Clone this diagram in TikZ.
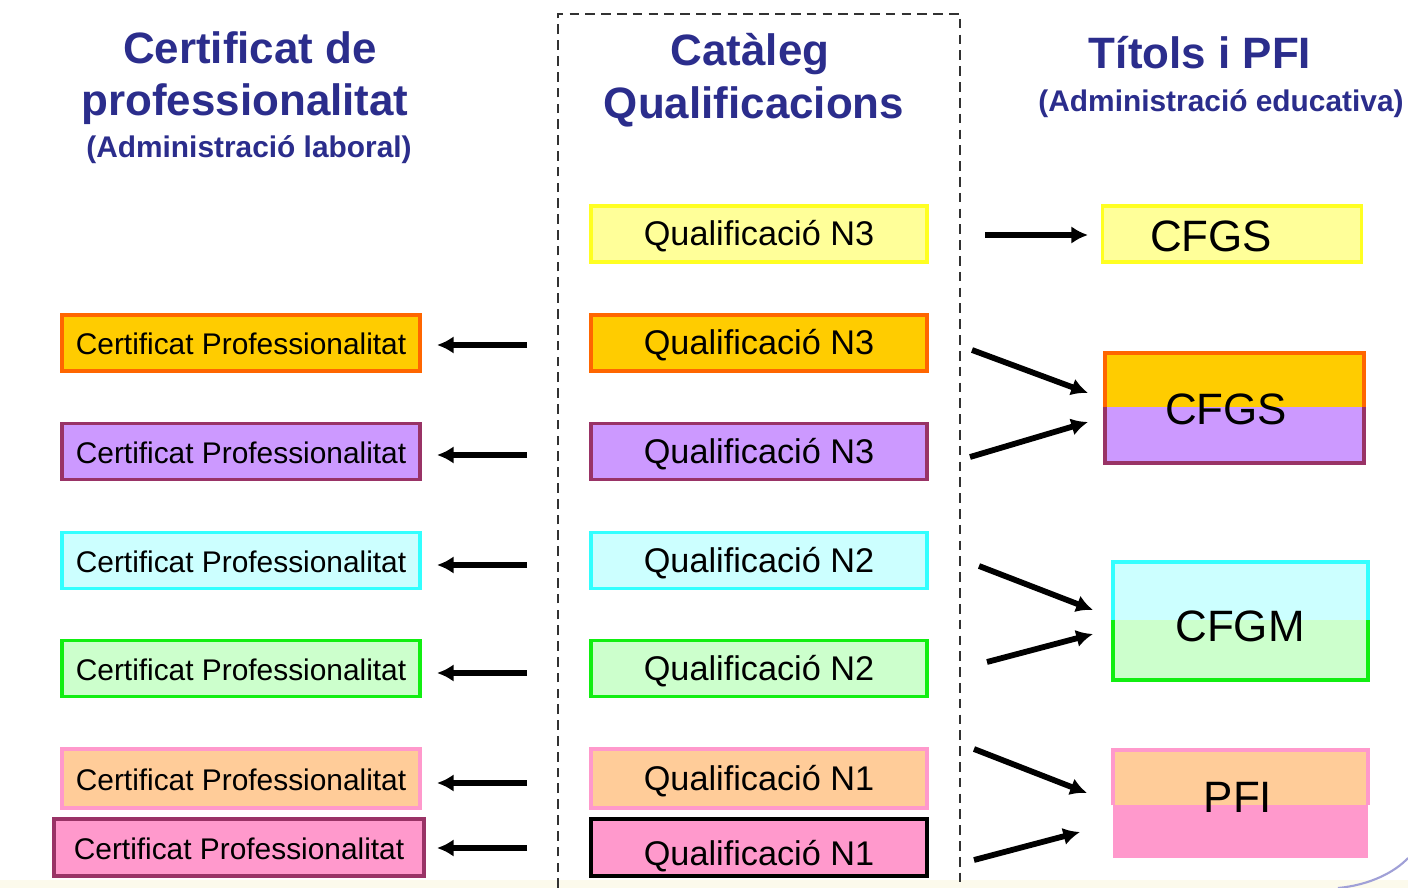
\documentclass[tikz,border=0pt]{standalone}
\usepackage{fontspec}
\setmainfont{Liberation Sans}
\usetikzlibrary{arrows.meta}
\definecolor{headblue}{RGB}{43,45,140}
\definecolor{yellowF}{HTML}{FFFF99}
\definecolor{yellowB}{HTML}{FFFF22}
\definecolor{orangeF}{HTML}{FFCC00}
\definecolor{orangeB}{HTML}{FF6600}
\definecolor{purpleF}{HTML}{CC99FF}
\definecolor{purpleB}{HTML}{993366}
\definecolor{cyanF}{HTML}{CCFFFF}
\definecolor{cyanB}{HTML}{33FFFF}
\definecolor{greenF}{HTML}{CCFFCC}
\definecolor{greenB}{HTML}{11EE11}
\definecolor{peachF}{HTML}{FFCC99}
\definecolor{peachB}{HTML}{FF99CC}
\definecolor{pinkF}{HTML}{FF99CC}
\definecolor{frameC}{RGB}{50,50,50}
\definecolor{bandC}{RGB}{252,250,236}
\definecolor{curveC}{RGB}{160,160,215}
\tikzset{
  head/.style={text=headblue, font=\bfseries\fontsize{25}{30}\selectfont, anchor=base, inner sep=0pt},
  subhead/.style={text=headblue, font=\bfseries\fontsize{17}{20}\selectfont, anchor=base, inner sep=0pt},
  box/.style={rectangle, inner sep=0pt, line width=2.2pt, text=black, text height=13.5pt, text depth=0pt},
  qbox/.style={box, minimum width=6.72cm, minimum height=1.12cm, font=\fontsize{19.5}{22}\selectfont},
  cbox/.style={box, minimum width=7.16cm, minimum height=1.12cm, font=\fontsize{17}{20}\selectfont},
  half/.style={rectangle, inner sep=0pt, draw=none},
  bigtext/.style={inner sep=0pt, font=\fontsize{25}{30}\selectfont, text height=18pt, text depth=0pt},
  arr/.style={line width=3.3pt, -{Latex[length=9.5pt,width=10pt]}},
  edge/.style={line width=2.2pt}
}
\begin{document}
\begin{tikzpicture}[x=0.02cm,y=-0.02cm]
\useasboundingbox (0,0) rectangle (1408,888);
\fill[white] (0,0) rectangle (1408,888);
\fill[bandC] (0,880) rectangle (1408,888);
\draw[curveC, line width=1.2pt] (1338,888) .. controls (1370,885) and (1395,872) .. (1408,858);

% dashed frame of the catalogue
\draw[frameC, line width=1.2pt, dash pattern=on 5.5pt off 3.5pt] (558,888) -- (558,14) -- (960,14) -- (960,888);

% headings
\node[head] (h1a) at (250,64) {Certificat de};
\node[head] (h1b) at (245,116) {professionalitat};
\node[subhead] (h1c) at (249,158) {(Administració laboral)};
\node[head] (h2a) at (750,66) {Catàleg};
\node[head] (h2b) at (754,119) {Qualificacions};
\node[head] (h3a) at (1200,69) {Títols i PFI};
\node[subhead] (h3b) at (1221,112) {(Administració educativa)};

% middle column
\node[qbox, fill=yellowF, draw=yellowB] (q1) at (759,234) {Qualificació N3};
\node[qbox, fill=orangeF, draw=orangeB] (q2) at (759,343) {Qualificació N3};
\node[qbox, fill=purpleF, draw=purpleB] (q3) at (759,451.5) {Qualificació N3};
\node[qbox, fill=cyanF, draw=cyanB] (q4) at (759,560.5) {Qualificació N2};
\node[qbox, fill=greenF, draw=greenB] (q5) at (759,668.5) {Qualificació N2};
\node[qbox, fill=peachF, draw=peachB, minimum height=1.18cm] (q6) at (759,778.5) {Qualificació N1};
\node[qbox, fill=pinkF, draw=black, line width=1.8pt, minimum height=1.14cm] (q7) at (759,847.5) {\raisebox{-3.5pt}{Qualificació N1}};

% left column
\node[cbox, fill=orangeF, draw=orangeB] (c2) at (241,343) {Certificat Professionalitat};
\node[cbox, fill=purpleF, draw=purpleB] (c3) at (241,451.5) {Certificat Professionalitat};
\node[cbox, fill=cyanF, draw=cyanB] (c4) at (241,560.5) {Certificat Professionalitat};
\node[cbox, fill=greenF, draw=greenB] (c5) at (241,668.5) {Certificat Professionalitat};
\node[cbox, fill=peachF, draw=peachB, minimum height=1.18cm] (c6) at (241,778.5) {Certificat Professionalitat};
\node[cbox, fill=pinkF, draw=purpleB, minimum width=7.4cm, minimum height=1.14cm] (c7) at (239,847.5) {Certificat Professionalitat};

% left arrows
\foreach \i/\y in {2/345,3/455,4/565,5/673,6/783,7/848}{
  \coordinate (la\i) at (527,\y);
  \coordinate (lb\i) at (437,\y);
  \draw[arr] (la\i) -- (lb\i);
}

% right column
\node[box, fill=yellowF, draw=yellowB, minimum width=5.18cm, minimum height=1.12cm] (r1) at (1232,234) {};
\node[bigtext] (r1t) at (1211,236) {CFGS};

\node[half, fill=orangeF, minimum width=5.18cm, minimum height=1.08cm] (r2a) at (1234.5,380) {};
\node[half, fill=purpleF, minimum width=5.18cm, minimum height=1.12cm] (r2b) at (1234.5,435) {};
\draw[edge, orangeB] (r2a.south west) -- (r2a.north west) -- (r2a.north east) -- (r2a.south east);
\draw[edge, purpleB] (r2b.north west) -- (r2b.south west) -- (r2b.south east) -- (r2b.north east);
\node[bigtext] (r2t) at (1226,409) {CFGS};

\node[half, fill=cyanF, minimum width=5.1cm, minimum height=1.16cm] (r3a) at (1240.5,591) {};
\node[half, fill=greenF, minimum width=5.1cm, minimum height=1.2cm] (r3b) at (1240.5,650) {};
\draw[edge, cyanB] (r3a.south west) -- (r3a.north west) -- (r3a.north east) -- (r3a.south east);
\draw[edge, greenB] (r3b.north west) -- (r3b.south west) -- (r3b.south east) -- (r3b.north east);
\node[bigtext] (r3t) at (1240,626) {CFGM};

\node[half, fill=pinkF, minimum width=5.1cm, minimum height=1.06cm] (r4b) at (1240.5,831.5) {};
\node[half, fill=peachF, minimum width=5.1cm, minimum height=1.1cm] (r4a) at (1240.5,777.5) {};
\draw[edge, peachB] (r4a.south west) -- (r4a.north west) -- (r4a.north east) -- (r4a.south east);
\node[bigtext] (r4t) at (1238,797) {PFI};

% right arrows
\coordinate (ra1) at (985,235);  \coordinate (rb1) at (1088,235);
\coordinate (ra2) at (972,350);  \coordinate (rb2) at (1088,393);
\coordinate (ra3) at (970,457);  \coordinate (rb3) at (1088,422);
\coordinate (ra4) at (979,566);  \coordinate (rb4) at (1093,610);
\coordinate (ra5) at (987,662);  \coordinate (rb5) at (1093,634);
\coordinate (ra6) at (974,749);  \coordinate (rb6) at (1087,793);
\coordinate (ra7) at (974,860);  \coordinate (rb7) at (1080,832);
\foreach \i in {1,...,7}{ \draw[arr] (ra\i) -- (rb\i); }
\end{tikzpicture}
\end{document}
